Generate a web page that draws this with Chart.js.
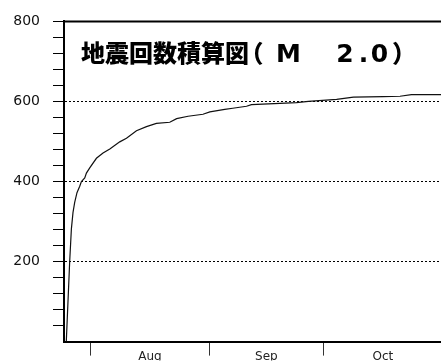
<!DOCTYPE html>
<html><head><meta charset="utf-8">
<script src="https://cdn.jsdelivr.net/npm/chart.js@4/dist/chart.umd.min.js"></script>
<style>html,body{margin:0;padding:0;background:#fff;overflow:hidden}
#wrap{position:relative;width:443px;height:363px;overflow:hidden}</style></head>
<body><div id="wrap"><canvas id="c" width="443" height="363"></canvas></div>
<script>
// days counted from 25 Jul (00:00)
const dayOffsets = [0.6, 1.49, 1.93, 2.36, 2.8, 3.4, 4.12, 4.56, 5.43, 5.87, 6.74, 8.49, 10.22, 12.0, 14.6, 16.36, 18.98, 21.6, 24.2, 27.7, 29.5, 32.5, 36.4, 38.2, 42.1, 44.2, 47.8, 49.1, 56.5, 60.9, 64.0, 71.4, 75.8, 83.6, 88.0, 91.0, 98.5, 99.0];
const cumulativeCounts = [0, 200, 281, 323, 348, 372, 388, 400, 409, 421, 434, 458, 471, 481, 499, 508, 527, 537, 545, 548, 557, 563, 568, 574, 580, 583, 588, 592, 595, 597, 600, 605, 611, 612, 613, 617, 617, 617];
const monthLabels = ["Aug", "Sep", "Oct"];
const monthStartDays = [7, 38, 68];
const monthMidDays = [22.5, 53, 83.5];
const yTickLabels = [200, 400, 600, 800];
const gridValues = [200, 400, 600];
const titleParts = ["地震回数積算図", "（", "M", "2", ".", "0", "）"];

const titlePlugin = {
  id: 'titleAndTop',
  afterDraw(chart) {
    const {ctx, chartArea} = chart;
    ctx.save();
    ctx.strokeStyle = '#000';
    ctx.lineWidth = 2;
    ctx.beginPath();
    ctx.moveTo(chartArea.left - 1, chartArea.top);
    ctx.lineTo(chartArea.right + 2, chartArea.top);
    ctx.stroke();
    ctx.fillStyle = '#000';
    const cjk = '900 24px "Noto Sans CJK JP"';
    const latin = 'bold 25px "DejaVu Sans"';
    ctx.font = cjk;
    ctx.textBaseline = 'middle';
    ctx.textAlign = 'left';
    ctx.fillText(titleParts[0], 81, 52.5);
    ctx.textAlign = 'center';
    const centers = [251.5, 288.5, 345, 363.5, 379.5, 404];
    const fonts = [cjk, latin, latin, latin, latin, cjk];
    for (let i = 1; i < titleParts.length; i++) {
      const f = fonts[i - 1];
      ctx.font = f;
      if (f === latin) { ctx.textBaseline = 'alphabetic'; ctx.fillText(titleParts[i], centers[i - 1], 62); }
      else { ctx.textBaseline = 'middle'; ctx.fillText(titleParts[i], centers[i - 1], 52.5); }
    }
    ctx.restore();
  }
};

new Chart(document.getElementById('c'), {
  type: 'line',
  data: {
    datasets: [{
      data: dayOffsets.map((d, i) => ({x: d, y: cumulativeCounts[i]})),
      borderColor: '#111', borderWidth: 1.2, pointRadius: 0, fill: false, tension: 0
    }]
  },
  options: {
    responsive: false, animation: false,
    layout: {padding: {top: 20, right: 1, left: 0, bottom: 0}},
    plugins: {legend: {display: false}, tooltip: {enabled: false}},
    scales: {
      x: {
        type: 'linear', min: 0, max: 99,
        afterBuildTicks: s => { s.ticks = monthStartDays.concat(monthMidDays).sort((a, b) => a - b).map(v => ({value: v})); },
        afterFit: s => { s.height = 19; },
        ticks: {autoSkip: false, maxRotation: 0, padding: -6, color: '#222',
          font: {family: 'DejaVu Sans', size: 12},
          callback: v => { const i = monthMidDays.indexOf(v); return i >= 0 ? monthLabels[i] : ''; }},
        grid: {drawOnChartArea: false, drawTicks: true, tickLength: 14, tickWidth: 1,
          tickColor: c => (c.tick && monthStartDays.includes(c.tick.value)) ? '#333' : 'rgba(0,0,0,0)'},
        border: {display: true, color: '#000', width: 2}
      },
      y: {
        min: 0, max: 800,
        afterFit: s => { s.width = 64; },
        ticks: {stepSize: 40, autoSkip: false, padding: 13, color: '#111',
          font: {family: 'DejaVu Sans', size: 14},
          callback: v => yTickLabels.includes(v) ? String(v) : ''},
        grid: {drawOnChartArea: true, lineWidth: 1, tickLength: 11, tickWidth: 1,
          color: c => (c.tick && gridValues.includes(c.tick.value)) ? '#000' : 'rgba(0,0,0,0)',
          tickColor: c => (c.tick && c.tick.value === 0) ? 'rgba(0,0,0,0)' : '#000'},
        border: {color: '#000', width: 2, dash: [2, 2]}
      }
    }
  },
  plugins: [titlePlugin]
});
</script>
</body></html>
